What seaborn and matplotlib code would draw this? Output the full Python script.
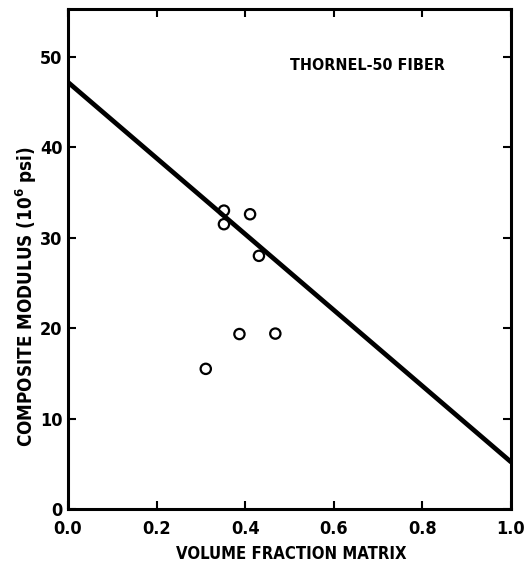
import matplotlib
matplotlib.use("Agg")
import matplotlib.pyplot as plt
import seaborn as sns
import pandas as pd
from matplotlib import font_manager
from matplotlib.font_manager import FontProperties

# Data
vol_frac = [0.311, 0.352, 0.352, 0.387, 0.411, 0.431, 0.468]
modulus = [15.5, 33.0, 31.5, 19.35, 32.6, 28.0, 19.4]
line_x = [0.0, 1.0]
line_y = [47.2, 5.2]
x_ticks = [0.0, 0.2, 0.4, 0.6, 0.8, 1.0]
y_ticks = [0, 10, 20, 30, 40, 50]

sns.set_theme(style="ticks")

# pick a condensed bold face if one is installed
chosen = None
for name in ["Liberation Sans Narrow", "DejaVu Sans", "Noto Sans", "Open Sans", "Roboto", "Lato", "Inter"]:
    try:
        p = font_manager.findfont(FontProperties(family=name, weight="bold", stretch="condensed"),
                                  fallback_to_default=False)
    except Exception:
        continue
    low = p.lower()
    if "condensed" in low or "narrow" in low or "cond" in low:
        chosen = name
        break
condensed = chosen is not None
if not condensed:
    chosen = "DejaVu Sans"
plt.rcParams["font.family"] = [chosen, "DejaVu Sans"]
plt.rcParams["font.weight"] = "bold"
plt.rcParams["font.stretch"] = "condensed"
plt.rcParams["mathtext.fontset"] = "custom"
plt.rcParams["mathtext.bf"] = f"{chosen}:bold"
plt.rcParams["mathtext.rm"] = f"{chosen}:bold"

tick_fs = 13 if condensed else 11
lab_fs = 12 if condensed else 10.5
ylab_fs = 13.5 if condensed else 11.5
ann_fs = 11.5 if condensed else 10

pts = pd.DataFrame({"x": vol_frac, "y": modulus})
ln = pd.DataFrame({"x": line_x, "y": line_y})

fig = plt.figure(figsize=(5.24, 5.63), dpi=100)
ax = fig.add_axes([68/524, 1-509/563, (511-68)/524, (509-9)/563])

sns.lineplot(data=ln, x="x", y="y", ax=ax, color="black", linewidth=3.4)
sns.scatterplot(data=pts, x="x", y="y", ax=ax, marker="o", s=55,
                facecolors="none", edgecolor="black", linewidth=1.6)

ax.set_xlim(0, 1.0)
ax.set_ylim(0, 55.3)
ax.set_xticks(x_ticks)
ax.set_xticklabels([f"{v:.1f}" for v in x_ticks])
ax.set_yticks(y_ticks)
ax.set_yticklabels([str(v) for v in y_ticks])
ax.tick_params(direction="in", length=6, width=1.5, top=True, right=True,
               labelsize=tick_fs, colors="black")
ax.tick_params(axis="x", pad=8)
ax.tick_params(axis="y", pad=4)
for lab in ax.get_xticklabels() + ax.get_yticklabels():
    lab.set_fontweight("bold")
for s in ax.spines.values():
    s.set_linewidth(2.2)
    s.set_color("black")

ax.set_xlabel("VOLUME FRACTION MATRIX", fontsize=lab_fs, fontweight="bold", color="black")
ax.set_ylabel(r"COMPOSITE MODULUS (10$^{6}$ psi)", fontsize=ylab_fs, fontweight="bold", color="black")
ax.yaxis.set_label_coords(-0.066, 0.425)
ax.xaxis.set_label_coords(0.503, -0.072)
ax.xaxis.label.set_va("top")

ax.text(0.677, 49.1, "THORNEL-50 FIBER", fontsize=ann_fs, fontweight="bold",
        ha="center", va="center", color="black")

fig.savefig("out.png", dpi=100)
